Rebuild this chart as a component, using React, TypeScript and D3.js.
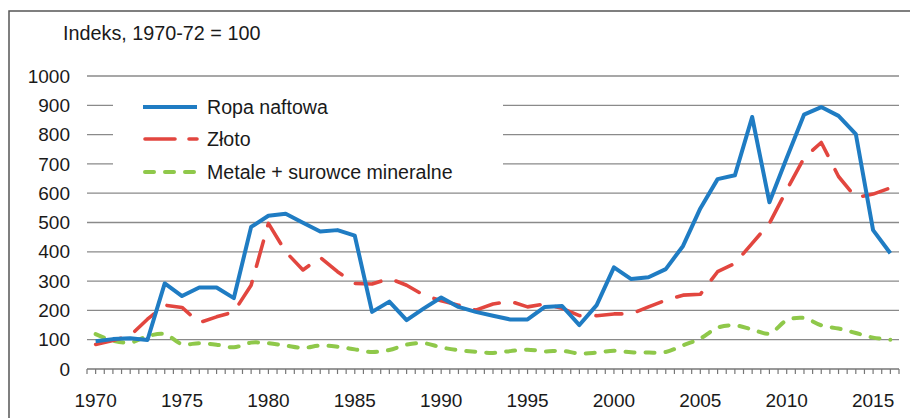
import React from "react";
import * as d3 from "d3";

const years: number[] = d3.range(1970, 2017);

const ropa: number[] = [
  95, 102, 105, 99, 292, 249, 278, 278, 242, 485,
  523, 530, 499, 469, 474, 455, 195, 230, 167, 207,
  244, 212, 195, 182, 169, 169, 212, 215, 150, 218,
  347, 307, 313, 341, 420, 548, 648, 661, 860, 569,
  720, 868, 894, 864, 802, 474, 395,
];

const zloto: number[] = [
  84, 97, 114, 170, 218, 210, 158, 178, 195, 286,
  497, 400, 338, 381, 332, 292, 290, 309, 286, 252,
  233, 218, 201, 222, 231, 212, 222, 207, 182, 182,
  188, 188, 212, 235, 252, 255, 332, 360, 429, 497,
  611, 720, 773, 657, 585, 597, 618,
];

const metale: number[] = [
  119, 97, 90, 112, 119, 85, 88, 83, 74, 90,
  88, 80, 72, 80, 76, 67, 58, 65, 83, 88,
  74, 64, 59, 55, 61, 66, 60, 62, 53, 56,
  62, 57, 56, 58, 81, 104, 141, 149, 135, 121,
  166, 174, 149, 138, 123, 107, 100,
];

const yTicks: number[] = [0, 100, 200, 300, 400, 500, 600, 700, 800, 900, 1000];
const xLabels: number[] = [1970, 1975, 1980, 1985, 1990, 1995, 2000, 2005, 2010, 2015];
const title = "Indeks, 1970-72 = 100";
const seriesNames = ["Ropa naftowa", "Złoto", "Metale + surowce mineralne"];

const BLUE = "#1f7cc3";
const RED = "#e2463f";
const GREEN = "#8fc84a";
const FONT = "'Liberation Sans', Arial, sans-serif";

export default function App() {
  const W = 910, H = 418;
  const x = d3.scaleLinear().domain([1969.5, 2016.5]).range([87, 899]);
  const y = d3.scaleLinear().domain([0, 1000]).range([369, 76]);

  const line = d3.line<number>().x((_, i) => x(years[i])).y((d) => y(d));
  const smooth = d3
    .line<number>()
    .x((_, i) => x(years[i]))
    .y((d) => y(d))
    .curve(d3.curveCatmullRom.alpha(0.5));

  const halfTicks = d3.range(0, 95).map((i) => 1969.5 + i * 0.5);

  const legendY = [107, 139, 172];

  return (
    <svg
      width={W}
      height={H}
      style={{ position: "absolute", left: 0, top: 0, background: "#fff" }}
      fontFamily={FONT}
    >
      <rect x={0} y={0} width={W} height={H} fill="#fff" />
      <rect x={9} y={11} width={920} height={440} fill="none" stroke="#555" strokeWidth={1.5} />
      <text x={63} y={33} dy="0.35em" fontSize={19.8} fill="#1a1a1a">
        {title}
      </text>

      {yTicks.map((t) => (
        <g key={t}>
          {t > 0 && (
            <line x1={87} x2={899} y1={y(t)} y2={y(t)} stroke="#8a8a8a" strokeWidth={1.3} />
          )}
          <text x={70} y={y(t)} dy="0.35em" textAnchor="end" fontSize={19} fill="#1a1a1a">
            {t}
          </text>
        </g>
      ))}

      <line x1={87} x2={899} y1={y(0)} y2={y(0)} stroke="#777" strokeWidth={1.5} />
      {halfTicks.map((t) => (
        <line key={t} x1={x(t)} x2={x(t)} y1={y(0)} y2={y(0) + 5} stroke="#777" strokeWidth={1.2} />
      ))}
      {xLabels.map((yr) => (
        <text key={yr} x={x(yr)} y={400} dy="0.35em" textAnchor="middle" fontSize={19} fill="#1a1a1a">
          {yr}
        </text>
      ))}

      <path
        d={smooth(metale) || ""}
        fill="none"
        stroke={GREEN}
        strokeWidth={4}
        strokeDasharray="9,11"
        strokeLinecap="round"
      />
      <path
        d={line(zloto) || ""}
        fill="none"
        stroke={RED}
        strokeWidth={3.6}
        strokeDasharray="26,16"
        strokeLinecap="round"
        strokeLinejoin="round"
      />
      <path
        d={line(ropa) || ""}
        fill="none"
        stroke={BLUE}
        strokeWidth={4}
        strokeLinejoin="round"
      />

      <rect x={113} y={86} width={390} height={102} fill="#fff" />
      <line x1={143} x2={197} y1={legendY[0]} y2={legendY[0]} stroke={BLUE} strokeWidth={4} />
      <line
        x1={145}
        x2={197}
        y1={legendY[1]}
        y2={legendY[1]}
        stroke={RED}
        strokeWidth={3.6}
        strokeDasharray="30,14"
        strokeLinecap="round"
      />
      <line
        x1={145}
        x2={196}
        y1={legendY[2]}
        y2={legendY[2]}
        stroke={GREEN}
        strokeWidth={4}
        strokeDasharray="9,11"
        strokeLinecap="round"
      />
      {seriesNames.map((n, i) => (
        <text key={n} x={207} y={legendY[i]} dy="0.35em" fontSize={19.6} fill="#1a1a1a">
          {n}
        </text>
      ))}
    </svg>
  );
}
